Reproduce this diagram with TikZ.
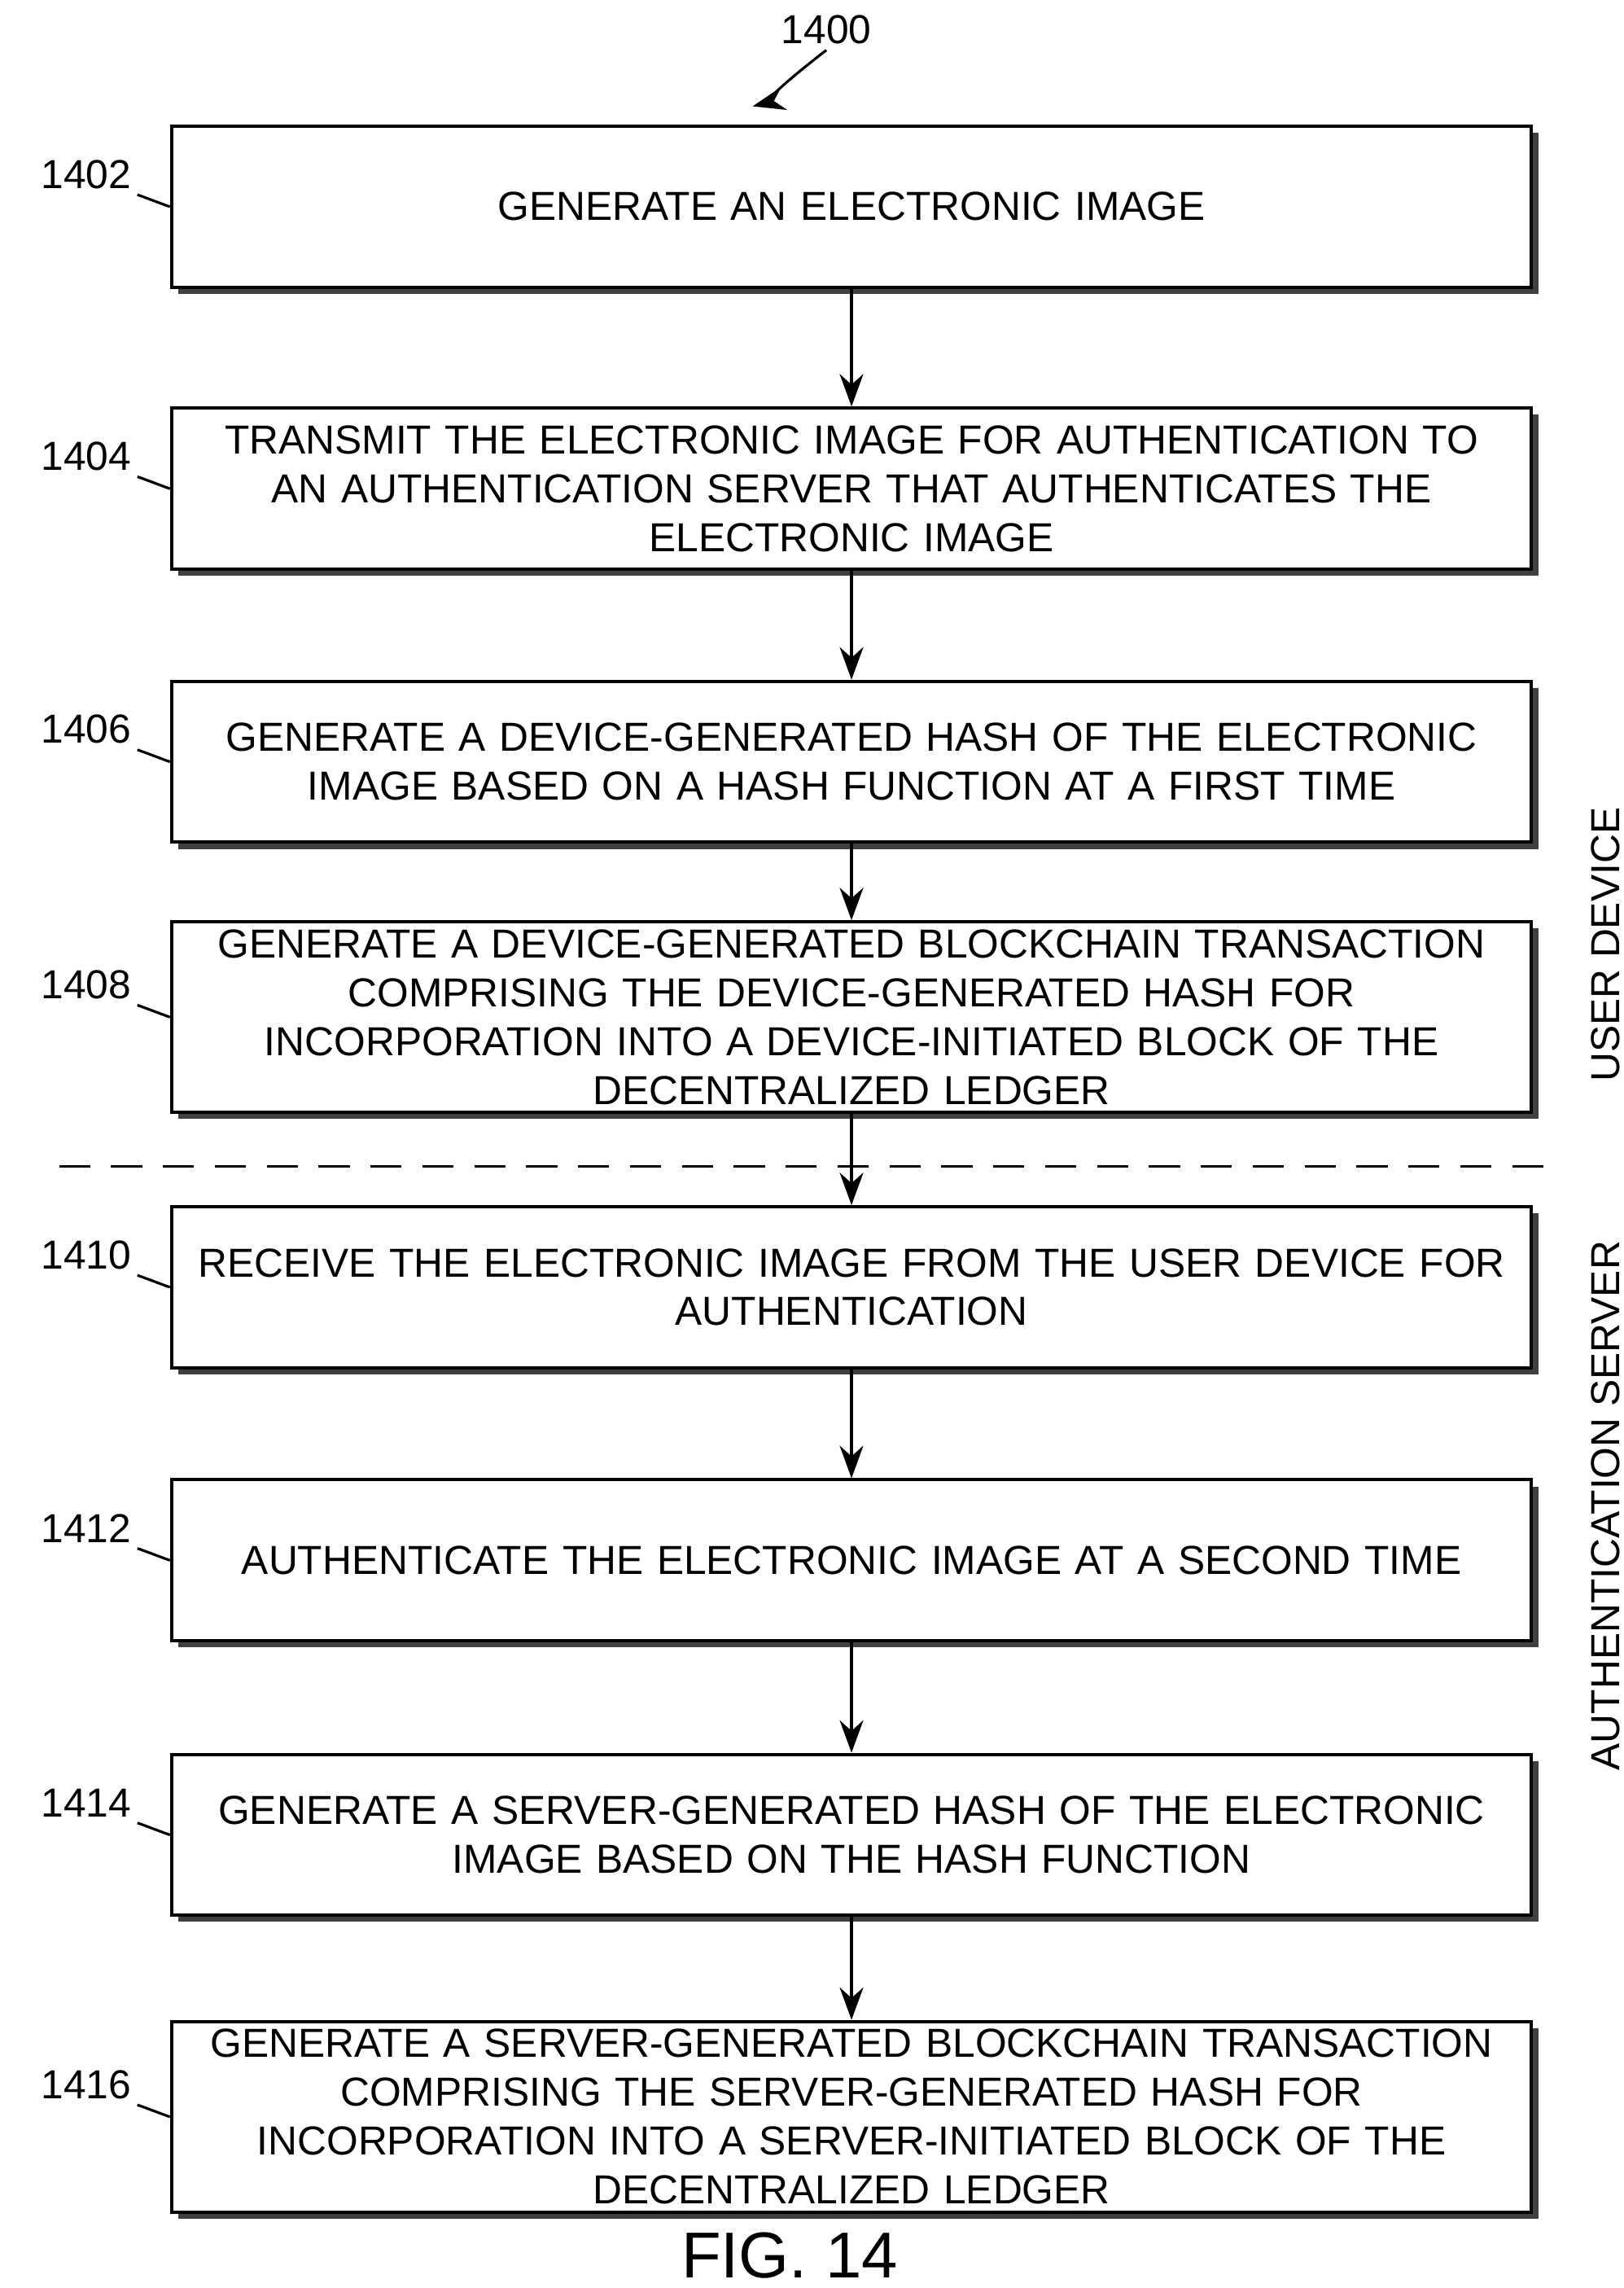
\documentclass[tikz,border=0pt]{standalone}
\usepackage{fontspec}
\setmainfont{Liberation Sans}
\usetikzlibrary{positioning}
\usetikzlibrary{shadows}
\usetikzlibrary{arrows.meta}

\begin{document}
\begin{tikzpicture}
  [
    x=0.01cm,y=-0.01cm,
    font=\fontsize{7.8}{9.4}\selectfont,
    step box/.style={
      rectangle,
      draw,
      fill=white,
      line width=0.6pt,
      drop shadow={shadow xshift=0.045cm,shadow yshift=-0.045cm,opacity=1,fill=black!75},
      minimum width=9.21cm,minimum height=1.09cm,
      text width=9.15cm,
      inner sep=0pt,
      align=center
    },
    tall/.style={minimum height=1.29cm},
    ref/.style={font=\fontsize{7.8}{9}\selectfont,inner sep=1pt},
    side/.style={rotate=90,font=\fontsize{7.8}{9}\selectfont},
    flow/.style={-{Stealth[length=2.2mm,width=1.6mm]},line width=0.6pt},
    squiggle/.style={line width=0.5pt},
  ]
  \useasboundingbox (0,0) rectangle (1100,1550);

  \node[step box] (s1402) at (577,140) {GENERATE AN ELECTRONIC IMAGE};
  \node[step box] (s1404) at (577,331)
      {TRANSMIT THE ELECTRONIC IMAGE FOR AUTHENTICATION TO\\ AN AUTHENTICATION SERVER THAT AUTHENTICATES THE\\ ELECTRONIC IMAGE};
  \node[step box] (s1406) at (577,516)
      {GENERATE A DEVICE-GENERATED HASH OF THE ELECTRONIC\\ IMAGE BASED ON A HASH FUNCTION AT A FIRST TIME};
  \node[step box,tall] (s1408) at (577,689)
      {GENERATE A DEVICE-GENERATED BLOCKCHAIN TRANSACTION\\ COMPRISING THE DEVICE-GENERATED HASH FOR\\ INCORPORATION INTO A DEVICE-INITIATED BLOCK OF THE\\ DECENTRALIZED LEDGER};
  \node[step box] (s1410) at (577,872)
      {RECEIVE THE ELECTRONIC IMAGE FROM THE USER DEVICE FOR\\ AUTHENTICATION};
  \node[step box] (s1412) at (577,1057)
      {AUTHENTICATE THE ELECTRONIC IMAGE AT A SECOND TIME};
  \node[step box] (s1414) at (577,1243)
      {GENERATE A SERVER-GENERATED HASH OF THE ELECTRONIC\\ IMAGE BASED ON THE HASH FUNCTION};
  \node[step box,tall] (s1416) at (577,1434)
      {GENERATE A SERVER-GENERATED BLOCKCHAIN TRANSACTION\\ COMPRISING THE SERVER-GENERATED HASH FOR\\ INCORPORATION INTO A SERVER-INITIATED BLOCK OF THE\\ DECENTRALIZED LEDGER};

  % step numbers
  \foreach \n in {1402,1404,1406,1408,1410,1412,1414,1416} {
    \node[ref,above left=0.08cm and 0.22cm of s\n.west] (l\n) {\n};
    \draw[squiggle] (l\n.south east) ++(-0.1,-0.02)
      .. controls +(0.15,-0.25) and +(-0.15,0.2) .. (s\n.west);
  }

  \foreach \a/\b in {1402/1404,1404/1406,1406/1408,1408/1410,1410/1412,1412/1414,1414/1416}
    \draw[flow] (s\a) -- (s\b);

  % lanes
  \coordinate (lane l) at (40,790);
  \coordinate (lane r) at (1048,790);
  \draw[dashed,dash pattern=on 6pt off 4pt,line width=0.5pt] (lane l) -- (lane r);
  \node[side] (dev) at (1088,640) {USER DEVICE};
  \node[side] (srv) at (1088,1020) {AUTHENTICATION SERVER};

  % figure
  \node[ref] (fig) at (560,20) {1400};
  \coordinate (fig tip) at (510,72);
  \draw[flow,line width=0.5pt] (fig.south) ++(-0.05,0.02)
      .. controls +(-0.1,0.12) and +(0.2,-0.05) .. (fig tip);
  \node[font=\fontsize{12.5}{14}\selectfont] (caption) at (535,1528) {FIG. 14};
\end{tikzpicture}
\end{document}
